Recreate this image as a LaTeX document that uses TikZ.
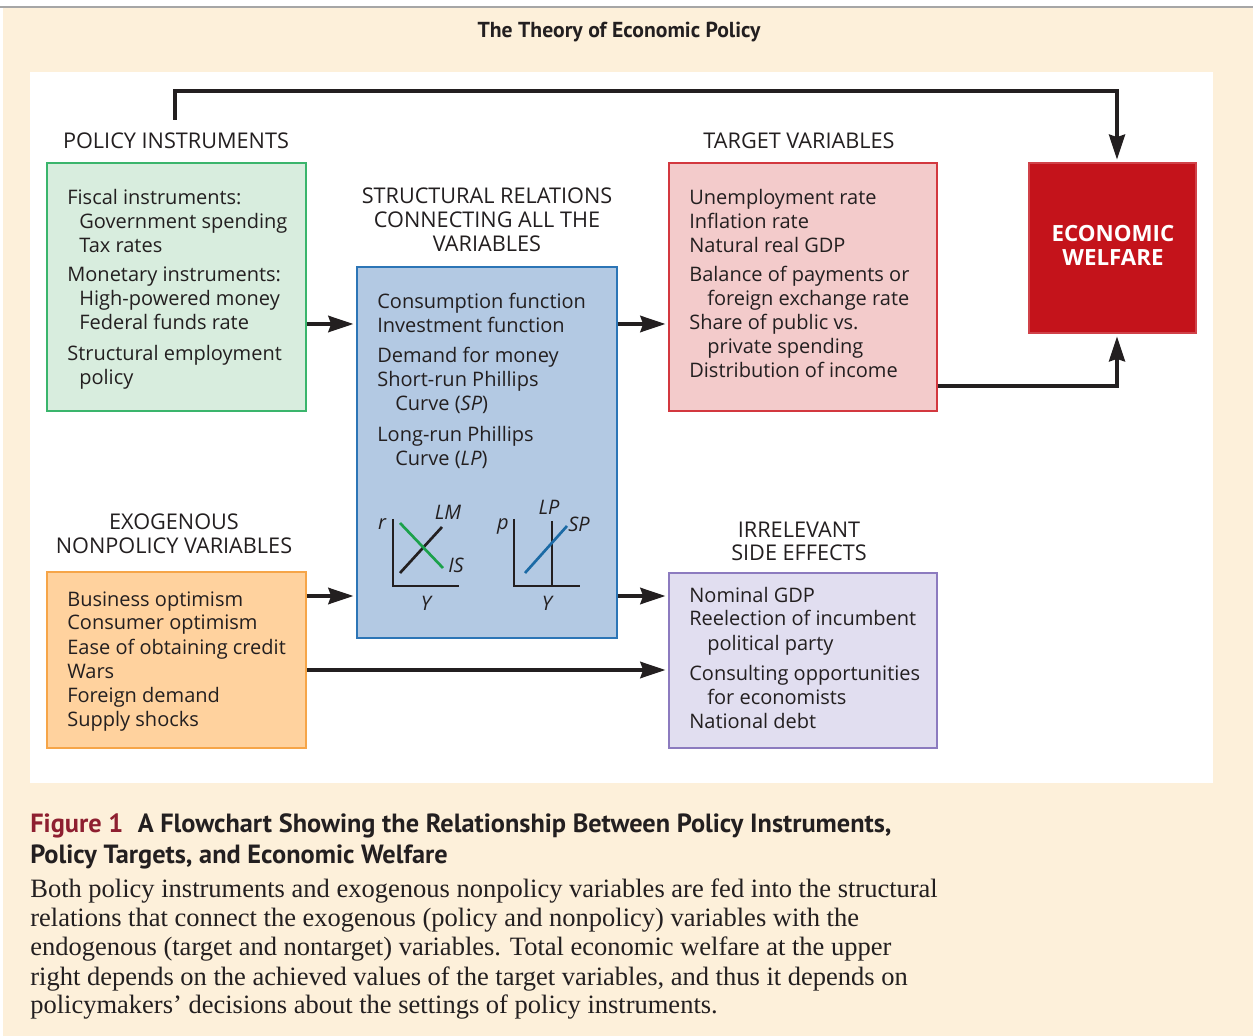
\documentclass[tikz,border=0pt]{standalone}
\usepackage{fontspec}
\setmainfont{Open Sans}
\newfontfamily\capserif{Liberation Serif}
\newfontfamily\headsans{PT Sans}
\usetikzlibrary{arrows.meta,positioning,fit}
\definecolor{cream}{HTML}{FDF0DA}
\definecolor{ink}{HTML}{231F20}
\definecolor{instrfill}{HTML}{D8EDDE}
\definecolor{instrline}{HTML}{3AB56C}
\definecolor{exofill}{HTML}{FFD29E}
\definecolor{exoline}{HTML}{F6A548}
\definecolor{structfill}{HTML}{B3C9E3}
\definecolor{structline}{HTML}{2C75B6}
\definecolor{targfill}{HTML}{F3CBCB}
\definecolor{targline}{HTML}{D3383F}
\definecolor{sidefill}{HTML}{E1DEF0}
\definecolor{sideline}{HTML}{8C7BBF}
\definecolor{welfred}{HTML}{C4131B}
\definecolor{figred}{HTML}{8E1F30}
\definecolor{isgreen}{HTML}{1BA14B}
\definecolor{spblue}{HTML}{1B6AA5}
\tikzset{
  box/.style={draw,line width=1pt,inner sep=0pt},
  instrbox/.style={box,draw=instrline,fill=instrfill},
  exobox/.style={box,draw=exoline,fill=exofill},
  structbox/.style={box,draw=structline,fill=structfill},
  targbox/.style={box,draw=targline,fill=targfill},
  sidebox/.style={box,draw=sideline,fill=sidefill},
  welfbox/.style={box,draw=welfred!80!white,fill=welfred},
  txt/.style={anchor=base west,inner sep=0pt,text=ink,font=\fontsize{12}{14.4}\selectfont},
  head/.style={anchor=base,inner sep=0pt,text=ink,font=\fontsize{13}{15.6}\selectfont},
  welftxt/.style={anchor=base,inner sep=0pt,text=white,font=\fontsize{13.4}{16}\selectfont\bfseries},
  glab/.style={inner sep=0pt,text=ink,font=\fontsize{12}{14.4}\selectfont\itshape},
  arr/.style={line width=2.9pt,draw=ink,shorten >=1.5pt,
    -{Stealth[length=15pt,width=9.5pt,inset=1.5pt]}},
  loop/.style={arr,line width=2.4pt},
  axis/.style={line width=1.2pt,draw=ink},
  curve/.style={line width=1.6pt},
}

\begin{document}
\begin{tikzpicture}[x=0.6pt,y=-0.6pt]
  \useasboundingbox (0,0) rectangle (1253,1036);
  % page background
  \fill[cream] (3,8) rectangle (1253,1036);
  \draw[line width=1.2pt,gray!70] (0,7) -- (1253,7);
  \fill[white] (30,72) rectangle (1213,783);
  \node[anchor=base,inner sep=0pt,text=ink,font=\headsans\bfseries\fontsize{13}{15}\selectfont]
    (title) at (619,38) {The Theory of Economic Policy};

  % boxes
  \node[instrbox,fit={(47,163) (306,411)}] (instr) {};
  \node[exobox,fit={(47,572) (306,748)}] (exo) {};
  \node[structbox,fit={(357,267) (617,638)}] (struct) {};
  \node[targbox,fit={(669,163) (937,411)}] (targ) {};
  \node[sidebox,fit={(669,573) (937,748)}] (side) {};
  \node[welfbox,fit={(1029,163) (1196,333)}] (welf) {};

  % headings
  \node[head] (instr-head) at (176,149) {POLICY INSTRUMENTS};
  \node[head] (targ-head) at (799,149) {TARGET VARIABLES};
  \foreach \y/\t [count=\i] in {204/{STRUCTURAL RELATIONS},228/{CONNECTING ALL THE},252/{VARIABLES}}
    \node[head] (struct-head\i) at (487,\y) {\t};
  \foreach \y/\t [count=\i] in {530/{EXOGENOUS},554/{NONPOLICY VARIABLES}}
    \node[head] (exo-head\i) at (174,\y) {\t};
  \foreach \y/\t [count=\i] in {538/{IRRELEVANT},561/{SIDE EFFECTS}}
    \node[head] (side-head\i) at (799,\y) {\t};
  \node[welftxt] (welf-1) at (1113,242) {ECONOMIC};
  \node[welftxt] (welf-2) at (1113,266) {WELFARE};

  % box contents
  \foreach \x/\y/\t [count=\i] in {67/205/{Fiscal instruments:},79/229/{Government spending},
      79/253/{Tax rates},67/282/{Monetary instruments:},79/306/{High-powered money},
      79/330/{Federal funds rate},67/361/{Structural employment},79/385/{policy}}
    \node[txt] (instr-\i) at (\x,\y) {\t};
  \foreach \x/\y/\t [count=\i] in {377/309/{Consumption function},377/333/{Investment function},
      377/363/{Demand for money},377/387/{Short-run Phillips},395/411/{Curve (\textit{SP})},
      377/442/{Long-run Phillips},395/466/{Curve (\textit{LP})}}
    \node[txt] (struct-\i) at (\x,\y) {\t};
  \foreach \x/\y/\t [count=\i] in {689/205/{Unemployment rate},689/229/{Inflation rate},
      689/253/{Natural real GDP},689/282/{Balance of payments or},707/306/{foreign exchange rate},
      689/330/{Share of public vs.},707/354/{private spending},689/378/{Distribution of income}}
    \node[txt] (targ-\i) at (\x,\y) {\t};
  \foreach \y/\t [count=\i] in {606/{Business optimism},630/{Consumer optimism},
      654/{Ease of obtaining credit},678/{Wars},702/{Foreign demand},726/{Supply shocks}}
    \node[txt] (exo-\i) at (67,\y) {\t};
  \foreach \x/\y/\t [count=\i] in {689/602/{Nominal GDP},689/626/{Reelection of incumbent},
      707/650/{political party},689/680/{Consulting opportunities},707/704/{for economists},
      689/728/{National debt}}
    \node[txt] (side-\i) at (\x,\y) {\t};

  % IS-LM sketch
  \draw[axis] (393,519) -- (393,586) -- (459,586);
  \draw[curve,ink] (400,573) -- (442,527);
  \draw[curve,isgreen] (400,523) -- (443,568);
  \node[glab] (r-lab) at (382,524) {r};
  \node[glab] (lm-lab) at (448,512) {LM};
  \node[glab] (is-lab) at (456,565) {IS};
  \node[glab] (y-lab1) at (426,603) {Y};
  % Phillips sketch
  \draw[axis] (514,519) -- (514,586) -- (580,586);
  \draw[curve,ink] (552,521) -- (552,586);
  \draw[curve,spblue] (525,573) -- (567,526);
  \node[glab] (p-lab) at (503,526) {p};
  \node[glab] (lp-lab) at (549,507) {LP};
  \node[glab] (sp-lab) at (579,524) {SP};
  \node[glab] (y-lab2) at (547,603) {Y};

  % connectors
  \coordinate (rowA) at (0,324);
  \coordinate (rowB) at (0,596);
  \coordinate (rowC) at (0,670);
  \coordinate (rowD) at (0,386);
  \coordinate (loopstart) at (175,120);
  \coordinate (looptop) at (0,91);
  \draw[arr] (instr.east |- rowA) -- (struct.west |- rowA);
  \draw[arr] (exo.east |- rowB) -- (struct.west |- rowB);
  \draw[arr] (struct.east |- rowA) -- (targ.west |- rowA);
  \draw[arr] (struct.east |- rowB) -- (side.west |- rowB);
  \draw[arr] (exo.east |- rowC) -- (side.west |- rowC);
  \draw[loop] (loopstart) -- (loopstart |- looptop) -| ([xshift=2.7pt]welf.north);
  \draw[loop] (targ.east |- rowD) -| ([xshift=2.7pt]welf.south);

  % caption
  \node[anchor=base west,inner sep=0pt,text=ink,font=\headsans\bfseries\fontsize{15.8}{19}\selectfont]
    (cap-1) at (30,832) {\textcolor{figred}{Figure 1}\hspace{0.55em}A Flowchart Showing the Relationship Between Policy Instruments,};
  \node[anchor=base west,inner sep=0pt,text=ink,font=\headsans\bfseries\fontsize{15.8}{19}\selectfont]
    (cap-2) at (30,863) {Policy Targets, and Economic Welfare};
  \foreach \y/\t [count=\i] in {897/{Both policy instruments and exogenous nonpolicy variables are fed into the structural},
      926/{relations that connect the exogenous (policy and nonpolicy) variables with the},
      955/{endogenous (target and nontarget) variables. Total economic welfare at the upper},
      985/{right depends on the achieved values of the target variables, and thus it depends on},
      1013/{policymakers’ decisions about the settings of policy instruments.}}
    \node[anchor=base west,inner sep=0pt,text=ink,font=\capserif\fontsize{15.9}{19}\selectfont]
      (body-\i) at (30,\y) {\t};
\end{tikzpicture}
\end{document}
